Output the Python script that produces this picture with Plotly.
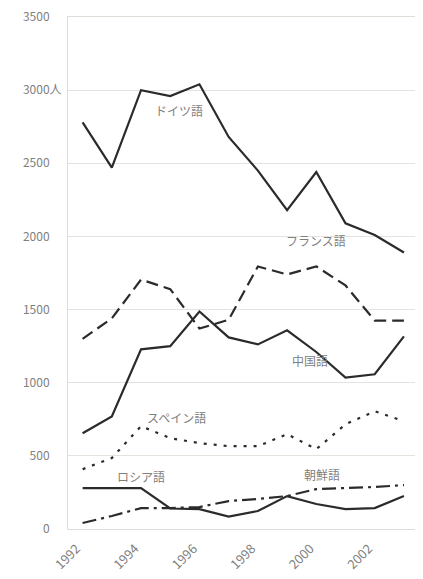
import plotly.graph_objects as go

years = list(range(1992, 2004))
german = [2780, 2470, 3000, 2960, 3040, 2680, 2450, 2180, 2440, 2090, 2010, 1890]
french = [1300, 1440, 1705, 1640, 1370, 1430, 1795, 1740, 1795, 1665, 1425, 1425]
chinese = [655, 770, 1228, 1250, 1487, 1310, 1262, 1358, 1210, 1035, 1058, 1317]
spanish = [409, 485, 703, 621, 587, 566, 566, 648, 546, 716, 805, 737]
russian = [280, 282, 280, 140, 136, 85, 123, 225, 171, 136, 143, 225]
korean = [41, 89, 143, 143, 150, 191, 205, 225, 273, 280, 287, 300]

series = [
    ("ドイツ語", german, "solid"),
    ("フランス語", french, "12px,6px"),
    ("中国語", chinese, "solid"),
    ("スペイン語", spanish, "3px,7px"),
    ("ロシア語", russian, "solid"),
    ("朝鮮語", korean, "14px,5px,3px,5px"),
]

label_pos = {
    "ドイツ語": (1995.3, 2860),
    "フランス語": (2000.0, 1975),
    "中国語": (1999.8, 1150),
    "スペイン語": (1995.2, 760),
    "ロシア語": (1994.0, 360),
    "朝鮮語": (2000.2, 370),
}

y_tickvals = [0, 500, 1000, 1500, 2000, 2500, 3000, 3500]
y_ticktext = ["0\u2003", "500\u2003", "1000\u2003", "1500\u2003", "2000\u2003",
              "2500\u2003", "3000人", "3500\u2003"]
x_tickvals = [1992, 1994, 1996, 1998, 2000, 2002]

FONT = "Noto Sans CJK JP"

fig = go.Figure()
for name, vals, dash in series:
    fig.add_trace(go.Scatter(
        x=years, y=vals, mode="lines", name=name,
        line=dict(color="#2b2b2b", width=2.2, dash=dash),
        showlegend=False,
    ))

for name, (lx, ly) in label_pos.items():
    fig.add_annotation(x=lx, y=ly, text=name, showarrow=False,
                       font=dict(family=FONT, size=12, color="#808080"))

fig.update_layout(
    width=415, height=572,
    margin=dict(l=60, r=3, t=9, b=51),
    paper_bgcolor="white", plot_bgcolor="white",
    font=dict(family=FONT, color="#808080", size=12),
)
fig.update_xaxes(
    range=[1991.5, 2003.55], tickvals=x_tickvals, tickangle=-45,
    showgrid=False, zeroline=False, showline=True, linecolor="#e0dcd8",
    mirror=True, tickfont=dict(size=13, color="#808080"), automargin=False,
    ticklabelshift=-6, ticklabelstandoff=6,
)
fig.update_yaxes(
    range=[0, 3500], tickvals=y_tickvals, ticktext=y_ticktext,
    showgrid=True, gridcolor="#e6e2de", zeroline=False,
    showline=True, linecolor="#e0dcd8", mirror=True,
    tickfont=dict(size=12, color="#808080"), ticks="", ticklen=0,
    automargin=False, ticklabeloverflow="allow", ticklabelstandoff=3,
)

fig.write_html("out.html")
